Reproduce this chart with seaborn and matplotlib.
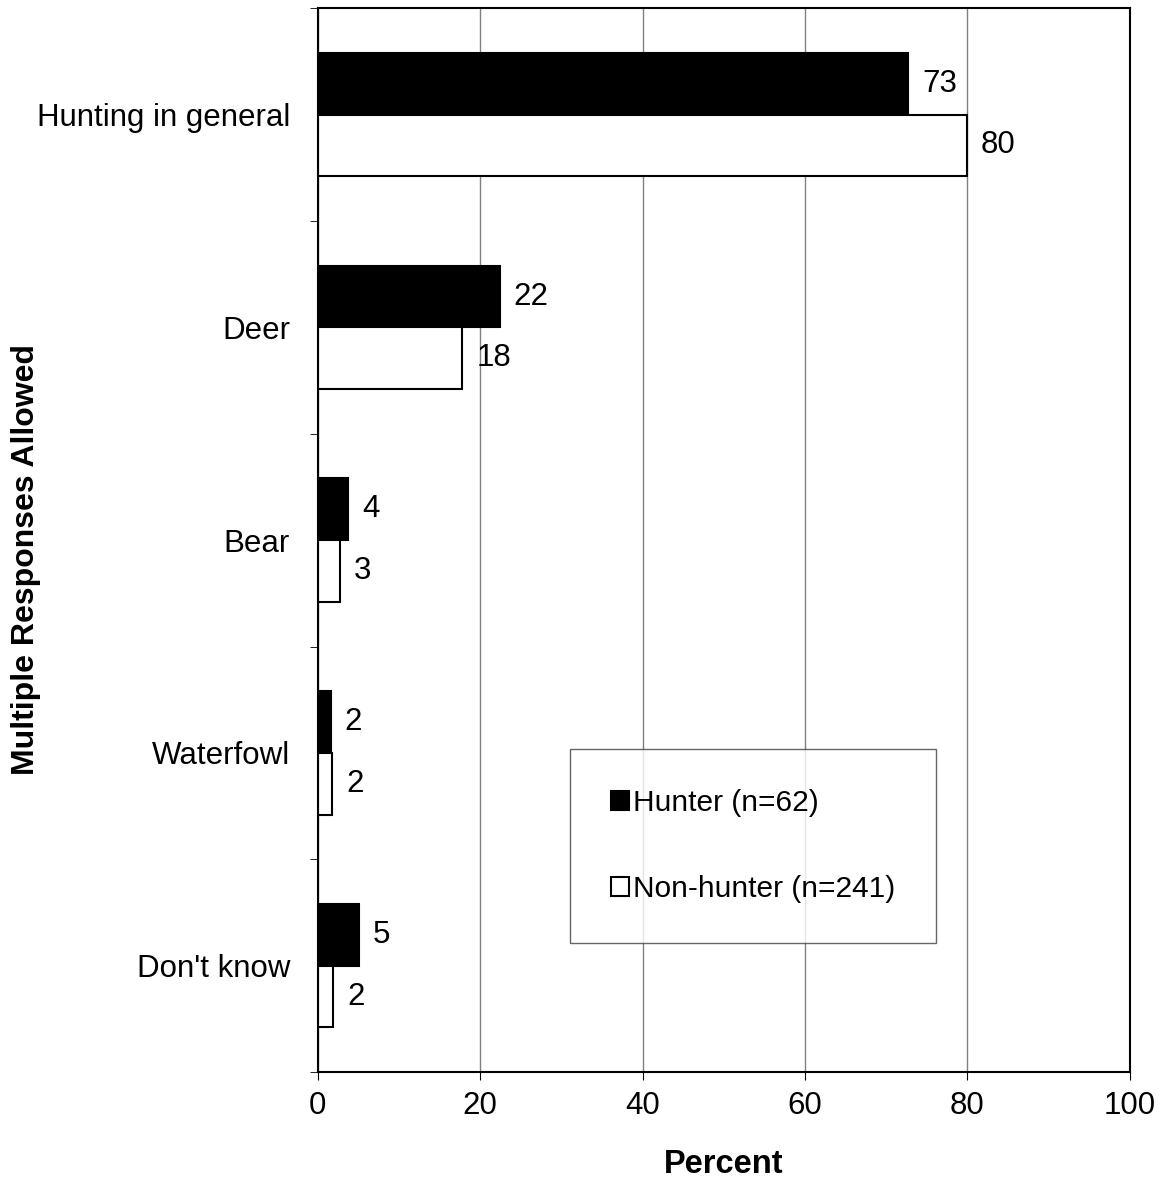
import numpy as np
import pandas as pd
import seaborn as sns
import matplotlib.pyplot as plt
from matplotlib.ticker import FixedLocator

categories = ["Hunting in general", "Deer", "Bear", "Waterfowl", "Don't know"]
hunter = [72.7, 22.4, 3.7, 1.6, 5.1]
non_hunter = [79.9, 17.8, 2.7, 1.8, 1.9]
groups = ["Hunter (n=62)", "Non-hunter (n=241)"]

df = pd.DataFrame({
    "cat": categories * 2,
    "pct": hunter + non_hunter,
    "group": [groups[0]] * len(categories) + [groups[1]] * len(categories),
})

sns.set_style("white")
plt.rcParams["font.family"] = ["Liberation Sans", "DejaVu Sans"]
plt.rcParams["text.color"] = "black"
plt.rcParams["axes.labelcolor"] = "black"
plt.rcParams["xtick.color"] = "black"
plt.rcParams["ytick.color"] = "black"

fs = 22.5

fig = plt.figure(figsize=(11.6, 11.8), dpi=100)
ax = fig.add_axes([0.274, 0.0915, 0.7, 0.9015])

sns.barplot(data=df, y="cat", x="pct", hue="group", order=categories,
            palette=["black", "white"], edgecolor="black", linewidth=1.5,
            width=0.58, orient="h", ax=ax, legend=True)

for cont in ax.containers:
    ax.bar_label(cont, fmt="{:.0f}", padding=10, fontsize=fs)

ax.set_xlim(0, 100)
ax.set_ylim(len(categories) - 0.5, -0.5)
ax.set_xticks(np.arange(0, 101, 20))
ax.xaxis.grid(True, color="#808080", linewidth=1)
ax.yaxis.grid(False)
ax.set_axisbelow(True)

ax.yaxis.set_minor_locator(FixedLocator(np.arange(-0.5, len(categories), 1.0)))
ax.tick_params(axis="y", which="major", length=0, pad=20, labelsize=fs)
ax.tick_params(axis="y", which="minor", length=6, color="black", left=True)
ax.tick_params(axis="x", which="major", length=6, color="black", bottom=True,
               labelsize=fs, pad=8)

for s in ax.spines.values():
    s.set_color("black")
    s.set_linewidth(1.5)

ax.set_xlabel("Percent", fontsize=23.5, fontweight="bold", labelpad=20)
ax.set_ylabel("")
fig.text(26 / 1160, 1 - 560 / 1180, "Multiple Responses Allowed", rotation=90,
         fontsize=23, fontweight="bold", ha="center", va="center")

leg = ax.legend(loc="upper left", bbox_to_anchor=(0.311, 0.304), fontsize=21.5,
                frameon=True, fancybox=False, edgecolor="#404040",
                handlelength=0.6, handleheight=0.6, handletextpad=0.15,
                labelspacing=1.95, borderpad=1.35, borderaxespad=0)
leg.get_frame().set_linewidth(1)
for h in leg.legend_handles:
    h.set_edgecolor("black")
    h.set_linewidth(1.5)

fig.savefig("out.png", dpi=100)
